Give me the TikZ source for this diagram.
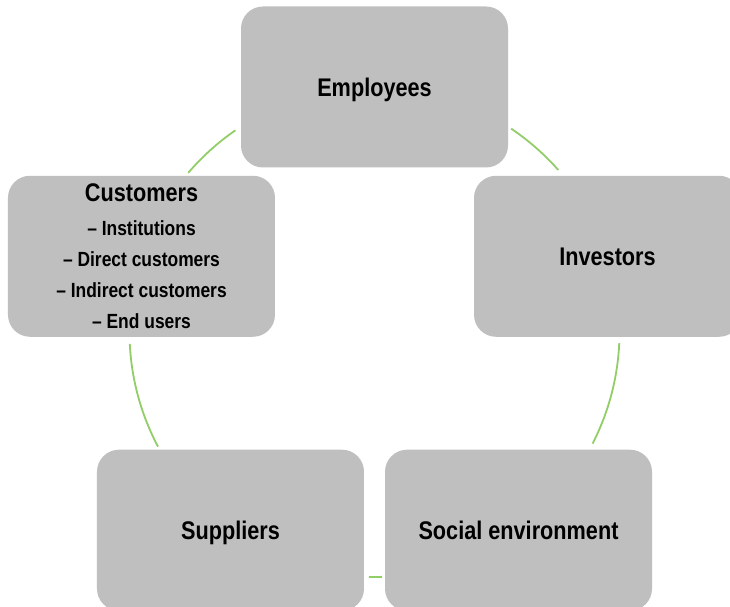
\documentclass[tikz,border=0pt]{standalone}
\usepackage{fontspec}
\setmainfont{Liberation Sans}[FakeStretch=0.85]
\usetikzlibrary{positioning}

\definecolor{boxgray}{RGB}{191,191,191}
\definecolor{ringgreen}{RGB}{146,206,104}

\begin{document}
\begin{tikzpicture}[x=1pt, y=1pt,
    party/.style={fill=boxgray, rounded corners=22pt, minimum width=267pt,
        minimum height=161pt, inner sep=0pt, align=center, text depth=0pt,
        font=\bfseries\fontsize{25.5}{30}\selectfont},
    ring/.style={ringgreen, line width=1.8pt}]
\useasboundingbox (0,0) rectangle (730,606);
\clip (0,0) rectangle (730,606);
\fill[white] (0,0) rectangle (730,606);
\coordinate (hub) at (374.5,274);

% the green ring, in pieces between the boxes
\draw[ring] ([shift={(56.1:245)}]hub) arc[start angle=56.1, end angle=41.4, radius=245pt];
\draw[ring] ([shift={(-2.6:245)}]hub) arc[start angle=-2.6, end angle=-27.1, radius=245pt];
\draw[ring] ([shift={(-88.2:245)}]hub) arc[start angle=-88.2, end angle=-91.3, radius=245pt];
\draw[ring] ([shift={(207.9:245)}]hub) arc[start angle=207.9, end angle=182.8, radius=245pt];
\draw[ring] ([shift={(139.5:245)}]hub) arc[start angle=139.5, end angle=124.6, radius=245pt];

% stakeholder boxes
\node[party] (employees) at ([shift={(90:245)}]hub) {Employees};
\node[party] (investors) at ([shift={(18:245)}]hub) {Investors};
\node[party] (social) at ([shift={(-54:245)}]hub) {Social environment};
\node[party] (suppliers) at ([shift={(-126:245)}]hub) {Suppliers};
\node[party, font=\bfseries\fontsize{20.5}{31}\selectfont] (customers)
    at ([shift={(162:245)}]hub)
    {{\fontsize{25.5}{31}\selectfont Customers}\\[3pt]
     -- Institutions\\ -- Direct customers\\ -- Indirect customers\\ -- End users};
\end{tikzpicture}
\end{document}
